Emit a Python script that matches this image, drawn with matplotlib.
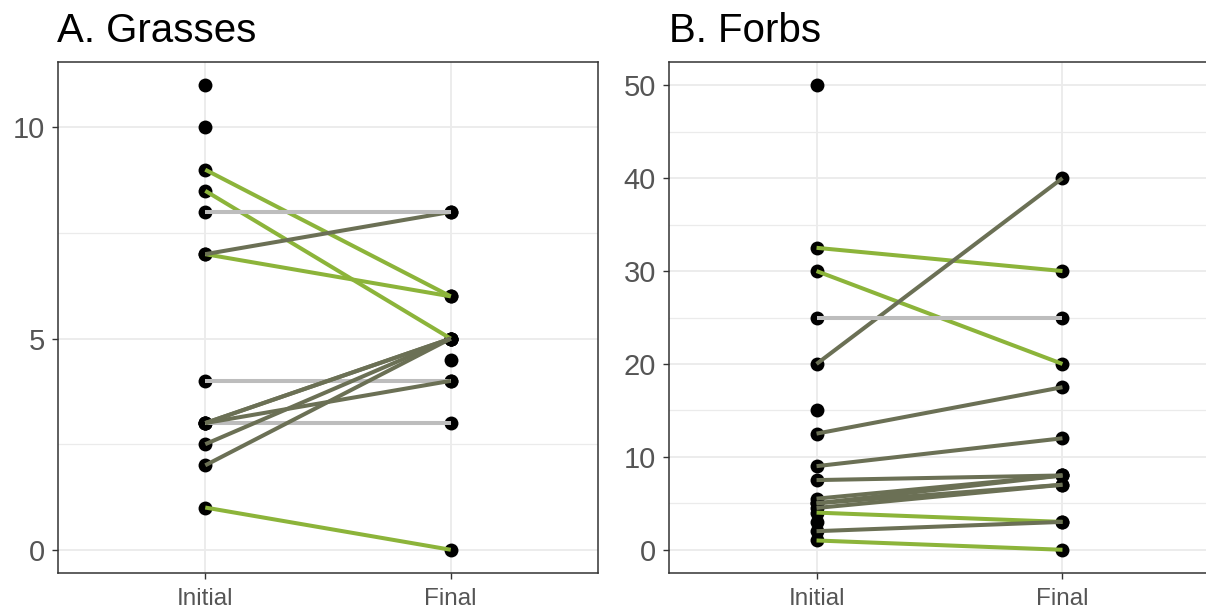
import matplotlib
matplotlib.use("Agg")
import matplotlib.pyplot as plt

plt.rcParams['font.family'] = ['Liberation Sans', 'DejaVu Sans']

categories = ["Initial", "Final"]

# Panel A: Grasses
grass_titles = "A. Grasses"
grass_lone_initial = [11, 10]
grass_lone_final = [4.5]
grass_pairs_initial = [9, 8.5, 7, 7, 8, 4, 3, 3, 3, 3, 2.5, 2, 1]
grass_pairs_final   = [6, 5, 6, 8, 8, 4, 3, 5, 5, 4, 5, 5, 0]
grass_groups        = ["dec", "dec", "dec", "inc", "same", "same", "same",
                       "inc", "inc", "inc", "inc", "inc", "dec"]
grass_yticks = [0, 5, 10]
grass_minor = [2.5, 7.5]
grass_ylim = (-0.55, 11.55)

# Panel B: Forbs
forb_title = "B. Forbs"
forb_lone_initial = [50, 15, 3]
forb_lone_final = []
forb_pairs_initial = [32.5, 30, 20, 25, 12.5, 9, 7.5, 5.5, 5, 5, 4.5, 4, 2, 1]
forb_pairs_final   = [30, 20, 40, 25, 17.5, 12, 8, 8, 8, 7, 7, 3, 3, 0]
forb_groups        = ["dec", "dec", "inc", "same", "inc", "inc", "inc",
                      "inc", "inc", "inc", "inc", "dec", "inc", "dec"]
forb_yticks = [0, 10, 20, 30, 40, 50]
forb_minor = [5, 15, 25, 35, 45]
forb_ylim = (-2.5, 52.5)

group_colors = {"dec": "#8cb43a", "inc": "#6b7055", "same": "#bdbdbd"}

W, H = 1206, 613
fig = plt.figure(figsize=(W / 100, H / 100), dpi=100)


def px_axes(left, right, top, bottom):
    return fig.add_axes([left / W, 1 - bottom / H, (right - left) / W, (bottom - top) / H])


def draw_panel(ax, title, title_x, lone_i, lone_f, pi, pf, groups, yticks, minor, ylim):
    ax.set_xlim(-0.6, 1.6)
    ax.set_ylim(*ylim)
    ax.set_facecolor("white")
    for v in minor:
        ax.axhline(v, color="#ebebeb", lw=0.9, zorder=0)
    for v in yticks:
        ax.axhline(v, color="#ebebeb", lw=1.3, zorder=0)
    for v in [0, 1]:
        ax.axvline(v, color="#ebebeb", lw=1.3, zorder=0)
    # points
    xs_i = [0] * (len(lone_i) + len(pi))
    ax.scatter(xs_i, list(lone_i) + list(pi), s=100, color="black", zorder=2, linewidths=0)
    xs_f = [1] * (len(lone_f) + len(pf))
    ax.scatter(xs_f, list(lone_f) + list(pf), s=100, color="black", zorder=2, linewidths=0)
    # lines
    for a, b, g in zip(pi, pf, groups):
        ax.plot([0, 1], [a, b], color=group_colors[g], lw=2.9, zorder=3,
                solid_capstyle="butt")
    ax.set_xticks([0, 1])
    ax.set_xticklabels(categories, fontsize=17.5, color="#555555")
    ax.set_yticks(yticks)
    ax.set_yticklabels([str(v) for v in yticks], fontsize=21, color="#555555")
    ax.tick_params(axis="both", length=4.5, width=1, color="#333333")
    ax.tick_params(axis="x", pad=6)
    ax.tick_params(axis="y", pad=5)
    for s in ax.spines.values():
        s.set_color("#333333")
        s.set_linewidth(1.1)
    fig.text(title_x / W, 1 - 42 / H, title, fontsize=29, color="black",
             ha="left", va="baseline")


axA = px_axes(58, 598, 62, 573)
draw_panel(axA, grass_titles, 57, grass_lone_initial, grass_lone_final,
           grass_pairs_initial, grass_pairs_final, grass_groups,
           grass_yticks, grass_minor, grass_ylim)

axB = px_axes(669, 1210, 62, 573)
draw_panel(axB, forb_title, 669, forb_lone_initial, forb_lone_final,
           forb_pairs_initial, forb_pairs_final, forb_groups,
           forb_yticks, forb_minor, forb_ylim)

fig.savefig("out.png", dpi=100, facecolor="white")
